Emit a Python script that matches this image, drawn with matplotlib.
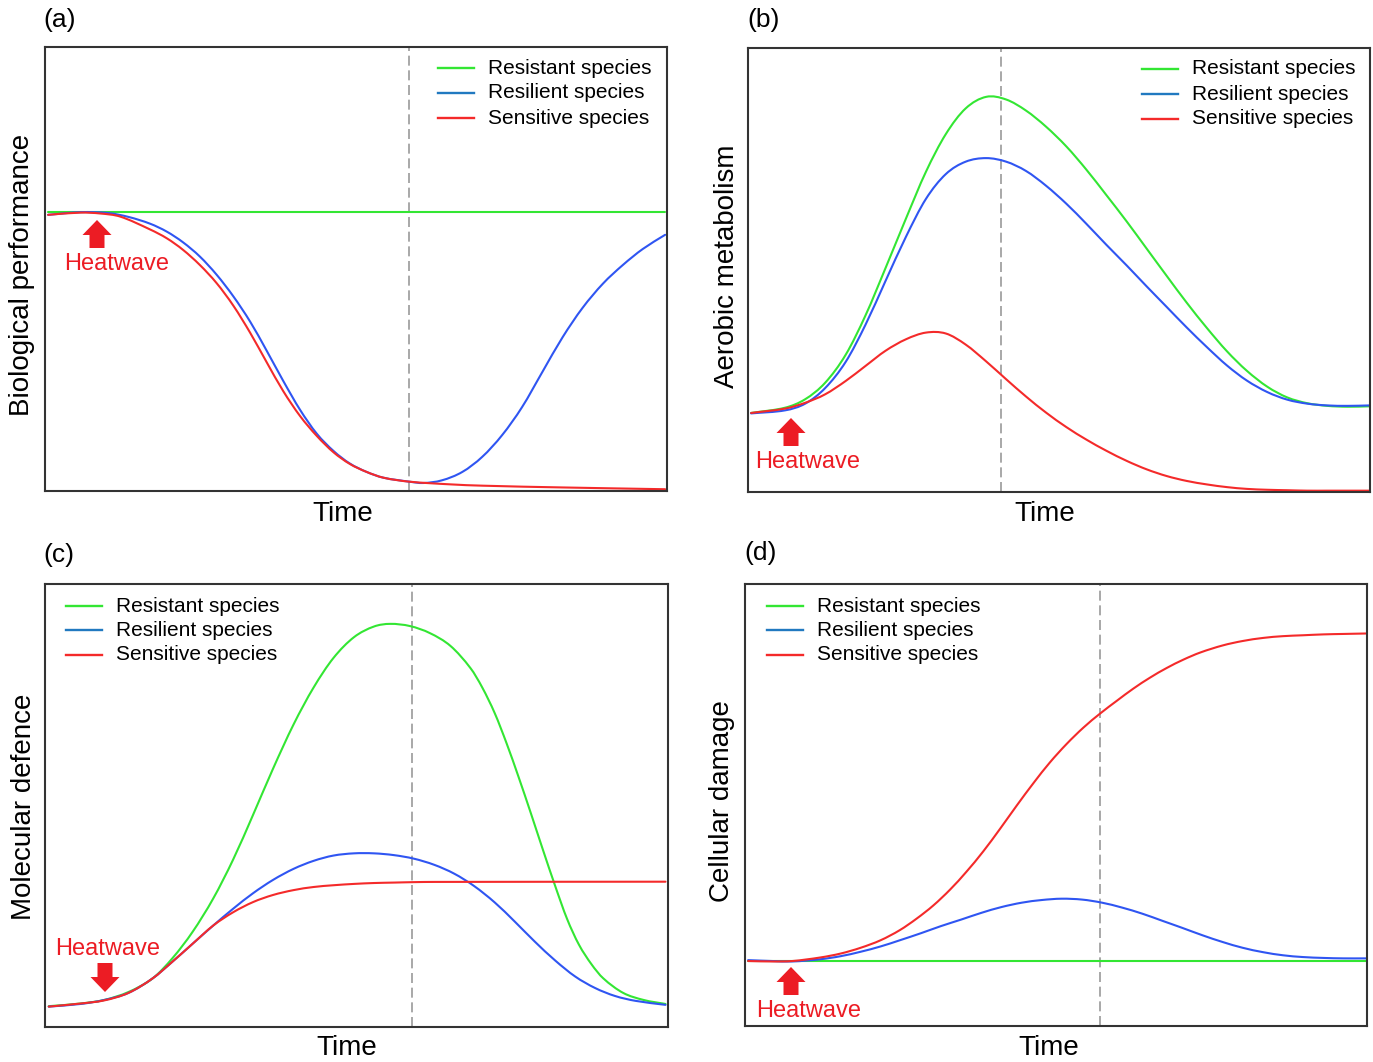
import matplotlib.pyplot as plt
from matplotlib.lines import Line2D
from matplotlib.patches import Polygon, PathPatch
from matplotlib.path import Path

W, H = 1373, 1062
plt.rcParams['font.family'] = ['Liberation Sans', 'DejaVu Sans']

GREEN = '#33e633'
BLUE = '#2f55f2'
KEY_BLUE = '#2179c0'
RED = '#f42a2a'
ARROW_RED = '#ec1c24'

species = ['Resistant species', 'Resilient species', 'Sensitive species']

# (a) biological performance
perf_resistant_t = [0.5, 99.7]
perf_resistant = [62.8, 62.8]
perf_resilient_t = [0.5, 5.7, 10.2, 13.5, 16.9, 19.6, 22.2, 24.9, 27.6, 30.3, 33.0, 35.6, 38.3, 41.0, 43.7,
                    46.4, 49.0, 51.7, 54.4, 58.6, 60.8, 63.8, 67.1, 70.3, 73.5, 76.7, 80.0, 83.2, 86.4, 89.7,
                    92.9, 96.1, 99.7]
perf_resilient = [62.2, 62.8, 62.6, 61.7, 60.2, 58.4, 56.0, 52.8, 48.7, 43.8, 38.1, 31.7, 24.8, 18.3, 12.9,
                  9.0, 6.2, 4.3, 3.0, 2.1, 1.8, 2.4, 4.3, 7.7, 12.6, 18.9, 26.9, 34.6, 41.2, 46.7,
                  50.9, 54.5, 57.7]
perf_sensitive_t = [0.5, 5.7, 8.9, 12.1, 16.9, 19.6, 22.2, 24.9, 27.6, 30.3, 33.0, 35.6, 38.3, 41.0, 43.7,
                    46.4, 49.0, 51.7, 54.4, 58.6, 65.1, 70.3, 83.2, 99.7]
perf_sensitive = [62.2, 62.7, 62.5, 61.8, 58.9, 56.9, 54.3, 50.9, 46.8, 41.7, 35.6, 29.1, 22.5, 16.9, 12.4,
                  8.7, 6.1, 4.3, 3.0, 2.1, 1.5, 1.2, 0.8, 0.4]

# (b) aerobic metabolism
aero_t = [0.5, 6.0, 9.2, 12.4, 15.7, 18.9, 22.1, 25.4, 28.6, 31.8, 35.0, 38.3, 41.5, 44.7, 47.9, 51.2,
          54.4, 57.6, 60.9, 64.1, 67.3, 70.5, 73.8, 77.0, 80.2, 83.5, 86.7, 89.9, 93.1, 96.4, 99.9]
aero_resistant = [17.8, 19.0, 20.9, 24.6, 30.9, 39.8, 50.4, 61.6, 72.1, 80.6, 86.4, 89.0, 88.4, 85.9, 82.3, 77.8,
                  72.6, 66.9, 60.9, 54.8, 48.7, 42.7, 36.9, 31.7, 27.3, 23.7, 21.3, 20.0, 19.4, 19.2, 19.3]
aero_resilient = [17.7, 18.4, 19.9, 23.4, 29.3, 37.7, 47.5, 57.5, 66.0, 71.6, 74.4, 75.2, 74.4, 72.3, 69.0, 64.9,
                  60.4, 55.7, 51.0, 46.3, 41.7, 37.1, 32.6, 28.5, 25.1, 22.5, 20.8, 19.9, 19.5, 19.4, 19.5]
aero_sensitive = [17.8, 18.8, 20.1, 22.0, 25.0, 28.4, 31.8, 34.4, 35.9, 35.7, 33.2, 29.4, 25.4, 21.5, 17.9, 14.6,
                  11.8, 9.3, 7.0, 5.1, 3.6, 2.5, 1.7, 1.1, 0.7, 0.5, 0.4, 0.3, 0.3, 0.3, 0.3]

# (c) molecular defence
mol_resistant_t = [0.6, 5.7, 9.5, 13.4, 17.3, 20.5, 23.7, 27.0, 30.2, 33.4, 36.6, 39.9, 43.1, 46.3, 49.6, 52.8,
                   55.4, 58.6, 61.8, 65.1, 68.3, 70.2, 72.2, 74.1, 76.0, 78.0, 79.9, 81.9, 83.8, 85.7, 87.7,
                   89.6, 92.8, 96.1, 99.6]
mol_resistant = [4.7, 5.3, 6.1, 7.9, 11.0, 15.6, 21.5, 29.0, 37.8, 47.9, 58.3, 68.3, 76.6, 83.3, 88.0, 90.4,
                 91.0, 90.5, 88.9, 86.0, 81.0, 76.6, 70.8, 64.0, 56.5, 48.2, 40.1, 31.8, 24.4, 18.6, 14.2,
                 11.0, 7.7, 6.1, 5.2]
mol_resilient_t = [0.6, 5.7, 9.5, 13.4, 17.3, 20.5, 23.7, 27.0, 30.2, 33.4, 36.6, 39.9, 43.1, 46.3, 49.6, 52.8,
                   56.0, 59.2, 62.5, 65.7, 68.9, 72.2, 75.4, 78.6, 81.9, 85.1, 88.3, 91.5, 94.8, 99.6]
mol_resilient = [4.6, 5.2, 6.1, 7.7, 11.0, 14.8, 18.8, 22.9, 26.7, 30.2, 33.2, 35.7, 37.5, 38.7, 39.2, 39.2,
                 38.8, 38.0, 36.6, 34.6, 31.8, 28.1, 23.8, 19.3, 15.0, 11.4, 8.8, 7.0, 5.9, 5.0]
mol_sensitive_t = [0.6, 5.7, 9.5, 13.4, 17.3, 20.5, 23.7, 27.0, 30.2, 33.4, 36.6, 39.9, 43.1, 46.3, 49.6, 52.8,
                   56.0, 59.2, 62.5, 99.6]
mol_sensitive = [4.6, 5.3, 6.0, 7.7, 11.0, 14.8, 18.8, 22.9, 25.9, 28.2, 29.8, 30.9, 31.6, 32.0, 32.3, 32.5,
                 32.6, 32.7, 32.75, 32.8]

# (d) cellular damage
dmg_t = [0.5, 4.4, 7.6, 12.1, 15.4, 18.6, 21.8, 24.9, 27.6, 30.3, 33.0, 35.6, 38.3, 41.0, 43.7, 46.4,
         49.0, 51.7, 54.4, 57.1, 59.8, 62.4, 65.1, 67.8, 70.5, 73.2, 76.8, 80.0, 83.3, 86.5, 89.7, 93.0,
         96.2, 99.8]
dmg_resistant_t = [0.5, 99.8]
dmg_resistant = [14.6, 14.6]
dmg_resilient_t = [0.5, 4.4, 7.6, 12.1, 15.4, 18.6, 21.8, 24.9, 28.3, 31.5, 34.8, 38.0, 41.2, 44.5, 47.7, 50.9,
                   54.2, 57.4, 60.6, 63.9, 67.1, 70.3, 73.6, 76.8, 80.0, 83.3, 86.5, 89.7, 93.0, 96.2, 99.8]
dmg_resilient = [14.9, 14.7, 14.6, 15.1, 15.8, 16.8, 18.0, 19.4, 21.0, 22.6, 24.1, 25.6, 26.9, 27.9, 28.5, 28.8,
                 28.6, 27.9, 26.8, 25.4, 23.8, 22.2, 20.5, 19.0, 17.7, 16.7, 16.0, 15.6, 15.4, 15.3, 15.3]
dmg_sensitive = [14.7, 14.6, 14.7, 15.5, 16.4, 17.7, 19.4, 21.7, 24.3, 27.3, 30.9, 34.9, 39.5, 44.6, 49.9, 55.0,
                 59.6, 63.8, 67.5, 70.7, 73.6, 76.3, 78.8, 81.0, 82.9, 84.5, 86.1, 87.1, 87.8, 88.2, 88.4, 88.6,
                 88.7, 88.8]

# time of the reference line in each panel
marker_time = [58.5, 40.7, 58.9, 57.1]

panels = [
    dict(tag='(a)', ylabel='Biological performance',
         series=[(perf_resistant_t, perf_resistant), (perf_resilient_t, perf_resilient),
                 (perf_sensitive_t, perf_sensitive)]),
    dict(tag='(b)', ylabel='Aerobic metabolism',
         series=[(aero_t, aero_resistant), (aero_t, aero_resilient), (aero_t, aero_sensitive)]),
    dict(tag='(c)', ylabel='Molecular defence',
         series=[(mol_resistant_t, mol_resistant), (mol_resilient_t, mol_resilient),
                 (mol_sensitive_t, mol_sensitive)]),
    dict(tag='(d)', ylabel='Cellular damage',
         series=[(dmg_resistant_t, dmg_resistant), (dmg_resilient_t, dmg_resilient), (dmg_t, dmg_sensitive)]),
]

# layout in pixels: axes box (left, top, right, bottom)
boxes = [(45, 47, 667, 491), (748, 48, 1370, 492), (45, 584, 668, 1027), (745, 584, 1367, 1026)]
tag_pos = [(43, 20), (747, 20), (43, 555), (744, 553)]
ylabel_pos = [(22, 275), (727, 266), (24, 807), (722, 801)]
xlabel_pos = [(343, 514), (1045, 514), (347, 1048), (1049, 1048)]
key_pos = [(438, 488, [68, 93, 118]), (1142, 1192, [69, 94, 119]),
           (66, 116, [606, 630, 655]), (767, 817, [606, 630, 655])]
# heatwave arrows: centre x, tip y, head base y, tail y ; label centre
arrows = [(97, 220, 235, 248, (117, 264)), (791, 418, 433, 446, (808, 462)),
          (105, 992, 977, 963, (108, 949)), (791, 967, 982, 995, (809, 1011))]

colors = [GREEN, BLUE, RED]
key_colors = [GREEN, KEY_BLUE, RED]


def fx(x):
    return x / W


def fy(y):
    return 1 - y / H


def smooth_path(xs, ys):
    # cubic Bezier segments through every point, slopes from neighbouring points
    n = len(xs)
    if n < 3:
        return Path(list(zip(xs, ys)))
    slopes = []
    for i in range(n):
        a, b = max(i - 1, 0), min(i + 1, n - 1)
        slopes.append((ys[b] - ys[a]) / (xs[b] - xs[a]))
    verts = [(xs[0], ys[0])]
    codes = [Path.MOVETO]
    for i in range(n - 1):
        h = (xs[i + 1] - xs[i]) / 3
        verts += [(xs[i] + h, ys[i] + slopes[i] * h),
                  (xs[i + 1] - h, ys[i + 1] - slopes[i + 1] * h),
                  (xs[i + 1], ys[i + 1])]
        codes += [Path.CURVE4] * 3
    return Path(verts, codes)


fig = plt.figure(figsize=(W / 100, H / 100), dpi=100)

for i, p in enumerate(panels):
    l, t, r, b = boxes[i]
    ax = fig.add_axes([fx(l), fy(b), (r - l) / W, (b - t) / H])
    ax.set_xlim(0, 100)
    ax.set_ylim(0, 100)
    ax.set_xticks([])
    ax.set_yticks([])
    for s in ax.spines.values():
        s.set_linewidth(1.5)
        s.set_color('#333333')

    ax.axvline(marker_time[i], color='#9a9a9a', lw=1.2, ls=(0, (6, 2.8)), zorder=1)
    for (xs, ys), c in zip(p['series'], colors):
        ax.add_patch(PathPatch(smooth_path(xs, ys), facecolor='none', edgecolor=c, lw=1.5,
                               capstyle='round', joinstyle='round', zorder=2))

    fig.text(fx(tag_pos[i][0]), fy(tag_pos[i][1]), p['tag'], fontsize=19, ha='left', va='center')
    fig.text(fx(ylabel_pos[i][0]), fy(ylabel_pos[i][1]), p['ylabel'], fontsize=20,
             rotation=90, ha='center', va='center')
    fig.text(fx(xlabel_pos[i][0]), fy(xlabel_pos[i][1]), 'Time', fontsize=20, ha='center', va='center')

    # key
    hx, tx, rows = key_pos[i]
    for name, c, ry in zip(species, key_colors, rows):
        fig.add_artist(Line2D([fx(hx), fx(hx + 36)], [fy(ry), fy(ry)], color=c, lw=1.7))
        fig.text(fx(tx), fy(ry), name, fontsize=15, ha='left', va='center')

    # heatwave arrow
    cx, tip, hb, tail, (lx, ly) = arrows[i]
    hw, sw = 14.5, 7.5
    pts = [(cx, tip), (cx + hw, hb), (cx + sw, hb), (cx + sw, tail), (cx - sw, tail),
           (cx - sw, hb), (cx - hw, hb)]
    pts = [(x / 100, (H - y) / 100) for x, y in pts]
    fig.add_artist(Polygon(pts, closed=True, facecolor=ARROW_RED, edgecolor='none',
                           transform=fig.dpi_scale_trans))
    fig.text(fx(lx), fy(ly), 'Heatwave', fontsize=17, color=ARROW_RED, ha='center', va='center')

fig.savefig('out.png', dpi=100)
